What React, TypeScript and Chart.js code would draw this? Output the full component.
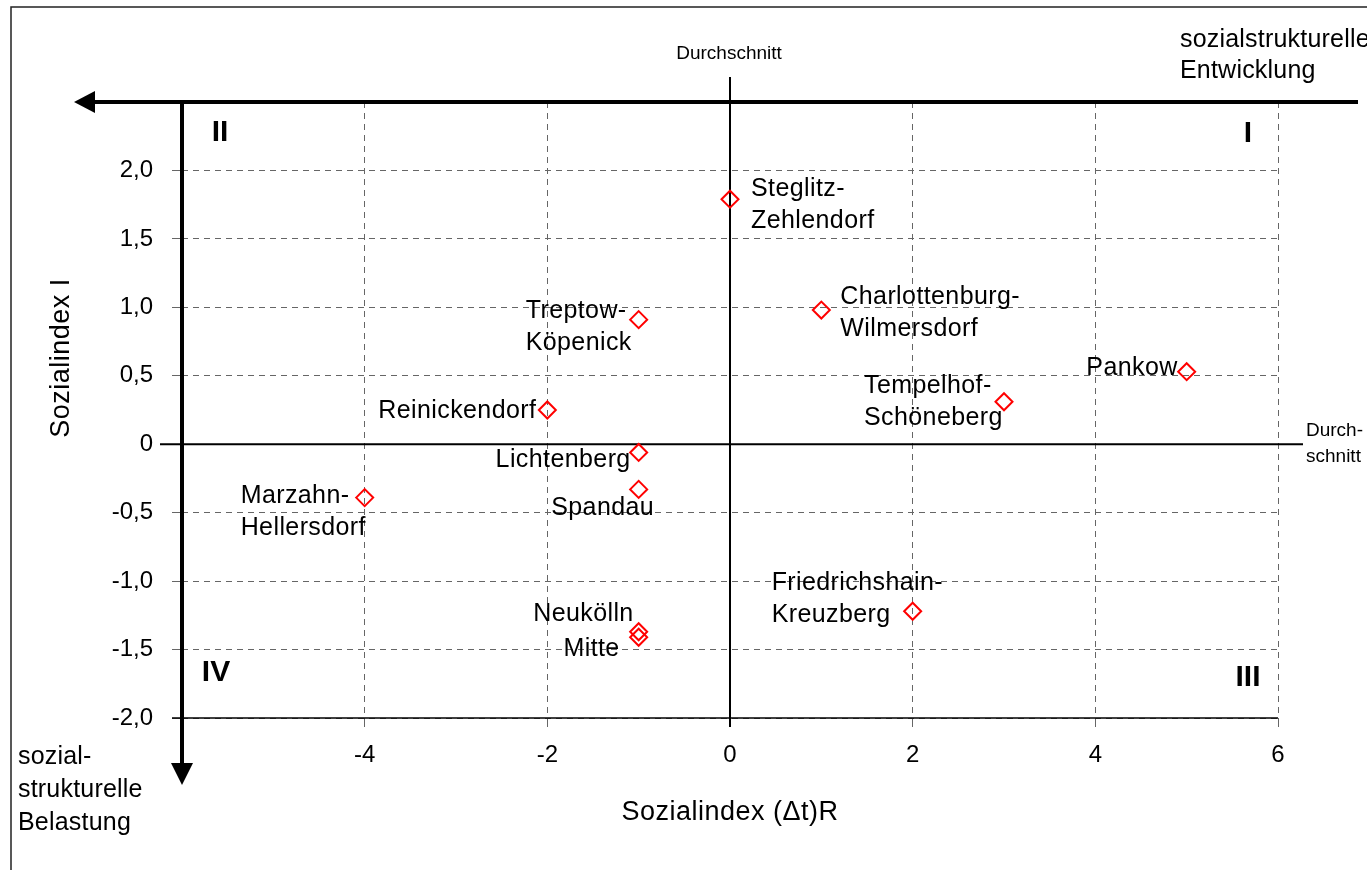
import React, { useEffect, useRef } from 'react';
import { Chart, registerables } from 'chart.js';

Chart.register(...registerables);

// ---- data ----
const districts = [
  'Steglitz-Zehlendorf',
  'Charlottenburg-Wilmersdorf',
  'Treptow-Köpenick',
  'Pankow',
  'Tempelhof-Schöneberg',
  'Reinickendorf',
  'Lichtenberg',
  'Spandau',
  'Marzahn-Hellersdorf',
  'Friedrichshain-Kreuzberg',
  'Neukölln',
  'Mitte',
];
const labelLines = [
  ['Steglitz-', 'Zehlendorf'],
  ['Charlottenburg-', 'Wilmersdorf'],
  ['Treptow-', 'Köpenick'],
  ['Pankow'],
  ['Tempelhof-', 'Schöneberg'],
  ['Reinickendorf'],
  ['Lichtenberg'],
  ['Spandau'],
  ['Marzahn-', 'Hellersdorf'],
  ['Friedrichshain-', 'Kreuzberg'],
  ['Neukölln'],
  ['Mitte'],
];
const sozialindexDeltaR = [0, 1, -1, 5, 3, -2, -1, -1, -4, 2, -1, -1];
const sozialindexI = [1.79, 0.98, 0.91, 0.53, 0.31, 0.25, -0.06, -0.33, -0.39, -1.22, -1.37, -1.41];

const xTicks = [-4, -2, 0, 2, 4, 6];
const xTickLabels = ['-4', '-2', '0', '2', '4', '6'];
const yTicks = [-2, -1.5, -1, -0.5, 0, 0.5, 1, 1.5, 2];
const yTickLabels = ['-2,0', '-1,5', '-1,0', '-0,5', '0', '0,5', '1,0', '1,5', '2,0'];

const xTitle = 'Sozialindex (Δt)R';
const yTitle = 'Sozialindex I';
const avgTop = 'Durchschnitt';
const avgRight = ['Durch-', 'schnitt'];
const devText = ['sozialstrukturelle', 'Entwicklung'];
const burdenText = ['sozial-', 'strukturelle', 'Belastung'];

// ---- label placement (pixel offsets relative to each point) ----
const labelPlacement = [
  { dx: 21, dy: -10, align: 'left' },
  { dx: 19, dy: -13, align: 'left' },
  { dx: -113, dy: -9, align: 'left' },
  { dx: -9, dy: -4, align: 'right' },
  { dx: -140, dy: -16, align: 'left' },
  { dx: -11, dy: 1, align: 'right' },
  { dx: -8, dy: 8, align: 'right' },
  { dx: -36, dy: 19, align: 'center' },
  { dx: -124, dy: -1, align: 'left' },
  { dx: -141, dy: -28, align: 'left' },
  { dx: -5, dy: -18, align: 'right' },
  { dx: -19, dy: 12, align: 'right' },
];

const FONT = '"Liberation Sans", Arial, Helvetica, sans-serif';

const overlayPlugin = {
  id: 'overlay',
  beforeDatasetsDraw(chart: any) {
    const { ctx, chartArea: a, scales } = chart;
    const x = scales.x;
    const y = scales.y;
    const line = (x1: number, y1: number, x2: number, y2: number) => {
      ctx.beginPath();
      ctx.moveTo(x1, y1);
      ctx.lineTo(x2, y2);
      ctx.stroke();
    };
    ctx.save();
    // outer frame
    ctx.strokeStyle = '#222';
    ctx.lineWidth = 1.5;
    ctx.strokeRect(11, 7, 1400, 900);

    // bottom axis line
    ctx.strokeStyle = '#000';
    ctx.lineWidth = 1.5;
    line(a.left - 10, a.bottom, a.right, a.bottom);

    // average lines
    const x0 = x.getPixelForValue(0);
    const y0 = y.getPixelForValue(0);
    ctx.lineWidth = 2;
    line(x0, a.top - 25, x0, a.bottom + 9);
    line(a.left - 22, y0, a.right + 25, y0);

    // thick arrows
    ctx.lineWidth = 4;
    ctx.fillStyle = '#000';
    line(a.left - 88, a.top, a.right + 80, a.top);
    ctx.beginPath();
    ctx.moveTo(a.left - 108, a.top);
    ctx.lineTo(a.left - 87, a.top - 11);
    ctx.lineTo(a.left - 87, a.top + 11);
    ctx.closePath();
    ctx.fill();

    line(a.left, a.top - 2, a.left, a.bottom + 46);
    ctx.beginPath();
    ctx.moveTo(a.left, a.bottom + 67);
    ctx.lineTo(a.left - 11, a.bottom + 45);
    ctx.lineTo(a.left + 11, a.bottom + 45);
    ctx.closePath();
    ctx.fill();
    ctx.restore();
  },
  afterDraw(chart: any) {
    const { ctx, chartArea: a, scales } = chart;
    const x = scales.x;
    const y = scales.y;
    ctx.save();
    ctx.fillStyle = '#000';
    ctx.textBaseline = 'middle';

    // point labels
    ctx.font = `25px ${FONT}`;
    ctx.letterSpacing = '0.4px';
    sozialindexDeltaR.forEach((v, i) => {
      const px = x.getPixelForValue(v);
      const py = y.getPixelForValue(sozialindexI[i]);
      const p = labelPlacement[i];
      ctx.textAlign = p.align;
      labelLines[i].forEach((t, k) => {
        ctx.fillText(t, px + p.dx, py + p.dy + k * 32);
      });
    });

    // axis titles
    ctx.font = `27px ${FONT}`;
    ctx.letterSpacing = '0.5px';
    ctx.textAlign = 'center';
    ctx.fillText(xTitle, (a.left + a.right) / 2, 813);
    ctx.save();
    ctx.translate(62, 358);
    ctx.rotate(-Math.PI / 2);
    ctx.fillText(yTitle, 0, 0);
    ctx.restore();

    // Durchschnitt labels
    ctx.font = `19px ${FONT}`;
    ctx.letterSpacing = '0px';
    ctx.textAlign = 'center';
    ctx.fillText(avgTop, x.getPixelForValue(0) - 1, 54);
    ctx.textAlign = 'left';
    const y0 = y.getPixelForValue(0);
    ctx.fillText(avgRight[0], a.right + 28, y0 - 13);
    ctx.fillText(avgRight[1], a.right + 28, y0 + 13);

    // corner texts
    ctx.font = `25px ${FONT}`;
    ctx.letterSpacing = '0.2px';
    ctx.textAlign = 'left';
    ctx.fillText(devText[0], 1180, 40);
    ctx.fillText(devText[1], 1180, 71);
    burdenText.forEach((t, k) => ctx.fillText(t, 18, 757 + k * 33));

    // quadrant numerals
    ctx.font = `bold 30px ${FONT}`;
    ctx.letterSpacing = '0px';
    ctx.textAlign = 'center';
    ctx.fillText('II', a.left + 38, a.top + 31);
    ctx.fillText('I', a.right - 30, a.top + 32);
    ctx.fillText('IV', a.left + 34, a.bottom - 45);
    ctx.fillText('III', a.right - 30, a.bottom - 40);
    ctx.restore();
  },
};

export default function App() {
  const ref = useRef<HTMLCanvasElement | null>(null);
  useEffect(() => {
    if (!ref.current) return;
    const gridCommon = {
      color: '#666',
      lineWidth: 1,
      tickColor: '#666',
      tickBorderDash: [],
    };
    const chart = new Chart(ref.current, {
      type: 'scatter',
      data: {
        datasets: [
          {
            label: 'Bezirke',
            data: sozialindexDeltaR.map((v, i) => ({ x: v, y: sozialindexI[i] })),
            pointStyle: 'rectRot',
            pointRadius: 8.5,
            pointBorderWidth: 2,
            borderColor: '#ff0000',
            backgroundColor: 'rgba(0,0,0,0)',
            showLine: false,
          },
        ],
      },
      options: {
        animation: false,
        responsive: false,
        layout: { padding: { left: 0, top: 102, right: 89, bottom: 0 } },
        plugins: { legend: { display: false }, tooltip: { enabled: false } },
        scales: {
          x: {
            type: 'linear',
            min: -6,
            max: 6,
            afterBuildTicks: (s: any) => {
              s.ticks = xTicks.map((v) => ({ value: v }));
            },
            afterFit: (s: any) => {
              s.height = 152;
            },
            ticks: {
              callback: (v: any) => {
                const i = xTicks.indexOf(Number(v));
                return i >= 0 ? xTickLabels[i] : '';
              },
              font: { family: FONT, size: 24 },
              color: '#000',
              padding: 14,
              maxRotation: 0,
            },
            grid: { ...gridCommon, tickLength: 9 },
            border: { display: false, dash: [6, 5] },
          },
          y: {
            type: 'linear',
            min: -2,
            max: 2.5,
            afterBuildTicks: (s: any) => {
              s.ticks = yTicks.map((v) => ({ value: v }));
            },
            afterFit: (s: any) => {
              s.width = 182;
            },
            ticks: {
              callback: (v: any) => {
                const i = yTicks.indexOf(Number(v));
                return i >= 0 ? yTickLabels[i] : '';
              },
              font: { family: FONT, size: 24 },
              color: '#000',
              padding: 19,
            },
            grid: { ...gridCommon, tickLength: 10 },
            border: { display: false, dash: [6, 5] },
          },
        },
      },
      plugins: [overlayPlugin],
    } as any);
    return () => chart.destroy();
  }, []);

  return (
    <div style={{ position: 'absolute', left: 0, top: 0, width: 1367, height: 870, background: '#fff' }}>
      <canvas ref={ref} width={1367} height={870} style={{ display: 'block' }} />
    </div>
  );
}
